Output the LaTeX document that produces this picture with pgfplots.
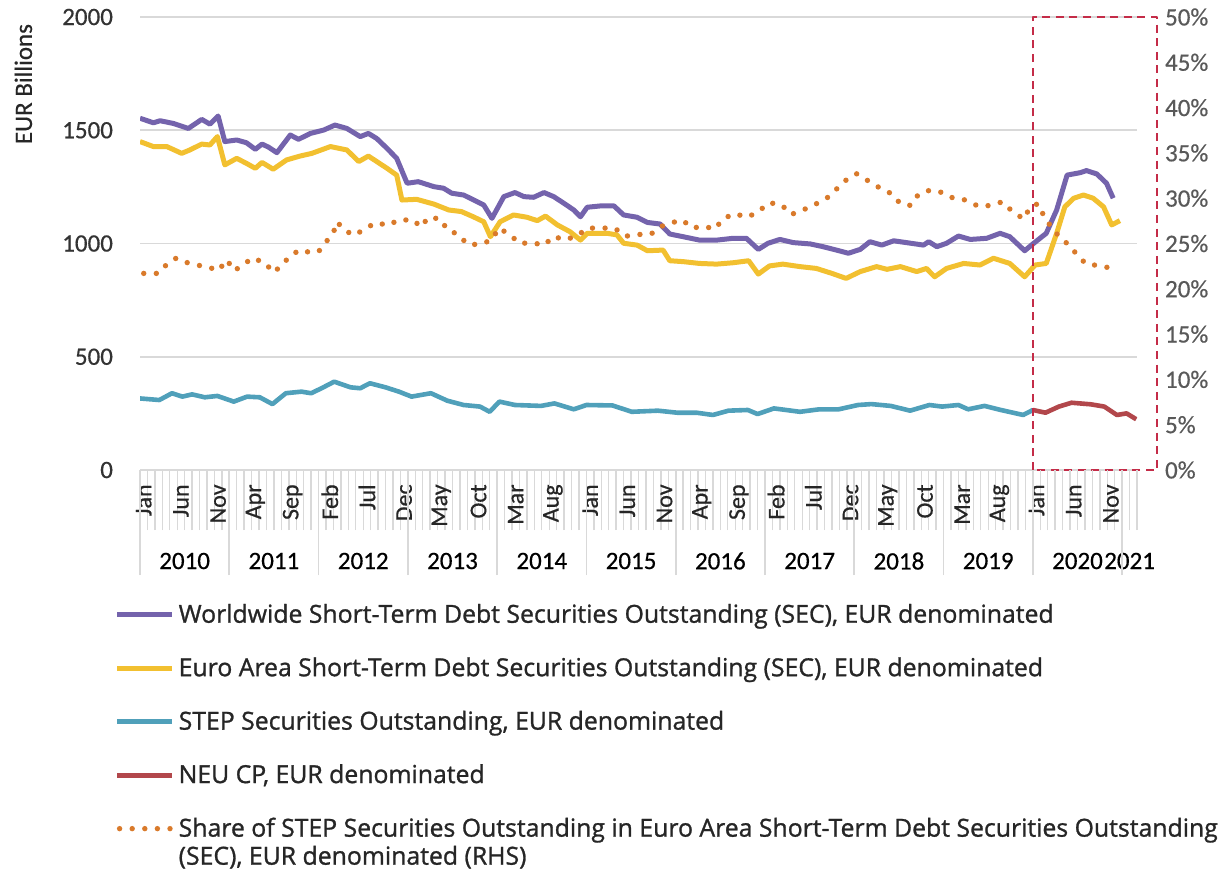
\documentclass[border=0pt]{standalone}
\usepackage{fontspec}
\setmainfont{Carlito}[FakeBold=0.5]
\newfontfamily\legfont[FakeBold=1.1]{Open Sans}
\usepackage{pgfplots}
\pgfplotsset{compat=1.18}
\definecolor{cPurple}{RGB}{116,99,172}
\definecolor{cYellow}{RGB}{242,192,48}
\definecolor{cTeal}{RGB}{80,160,186}
\definecolor{cRed}{RGB}{178,71,75}
\definecolor{cOrange}{RGB}{217,122,43}
\definecolor{cBox}{RGB}{196,44,72}
\definecolor{cGrid}{RGB}{217,217,217}
\begin{document}
\begin{tikzpicture}
\useasboundingbox (0,0) rectangle (609pt,437.5pt);
% ---------------- main axis (left) ----------------
\begin{axis}[
  at={(70pt,202.5pt)}, anchor=south west,
  scale only axis, width=498.5pt, height=226.5pt,
  xmin=0, xmax=134, ymin=0, ymax=2000,
  axis x line*=bottom, axis y line*=left,
  x axis line style={draw=cGrid, line width=0.9pt, -},
  y axis line style={draw=none},
  xtick=\empty,
  ytick={0,500,1000,1500,2000},
  major tick length=0pt,
  ymajorgrids, grid style={cGrid, line width=0.9pt},
  /pgf/number format/1000 sep={},
  /pgf/number format/assume math mode=true,
  yticklabel style={font=\fontsize{12.5}{14}\selectfont, text=black!80},
  yticklabel shift=10pt,
  ylabel={EUR Billions},
  ylabel style={at={(axis description cs:-0.117,0.852)}, anchor=center, font=\fontsize{12.5}{14}\selectfont, text=black!85},
  legend style={at={(axis description cs:-0.032,-0.277)}, anchor=north west, draw=none, fill=none,
    font=\legfont\fontsize{12.4}{14}\selectfont, row sep=11.8pt, cells={anchor=west, align=left}, text=black!85},
  legend cell align=left,
  legend image code/.code={\draw[line width=2.5pt, #1] (0pt,0pt) -- (27.5pt,0pt);},
  line join=round,
]
\addplot[cPurple, line width=2.5pt] coordinates {
(0,1553)(1.8,1533)(2.7,1542)(4.5,1530)(6.5,1508)(8.3,1548)(9.4,1527)(10.5,1563)(11.4,1450)(13,1457)(14.3,1445)(15.5,1416)(16.4,1439)(17.3,1425)(18.4,1401)(20.2,1479)(21.3,1460)(22.9,1486)(24.7,1501)(26.2,1523)(27.8,1508)(29.6,1472)(30.7,1486)(31.8,1464)(33.2,1420)(34.5,1376)(35.9,1266)(37.4,1273)(39.5,1251)(40.8,1244)(41.9,1222)(43.5,1214)(45.3,1185)(46.2,1170)(47.3,1111)(48.9,1207)(50.4,1225)(51.6,1207)(52.9,1204)(54.3,1225)(55.6,1207)(57,1177)(58.3,1148)(59.2,1118)(60.1,1160)(61.9,1166)(63.7,1166)(65,1126)(66.8,1116)(68.2,1093)(69.9,1086)(71.2,1042)(73,1030)(75.2,1015)(77.5,1015)(79.7,1023)(81.5,1023)(83.1,974)(84.4,1001)(86,1018)(87.8,1004)(90.1,998)(91.8,986)(93.6,971)(95.2,957)(96.8,974)(98.1,1008)(99.7,993)(101.3,1012)(103,1004)(105.3,993)(106,1008)(107.1,986)(108.4,1001)(110,1033)(111.6,1018)(113.8,1023)(115.6,1045)(116.9,1030)(118.9,968)(120,998)(121.8,1045)(123.2,1148)(124.6,1302)(126.4,1313)(127.2,1322)(128.6,1307)(129.9,1266)(130.8,1200)
};
\addlegendentry{Worldwide Short-Term Debt Securities Outstanding (SEC), EUR denominated}
\addplot[cYellow, line width=2.5pt] coordinates {
(0,1450)(1.8,1428)(3.6,1428)(5.6,1398)(6.7,1413)(8.3,1439)(9.4,1435)(10.4,1472)(11.4,1347)(13,1376)(14.3,1354)(15.5,1332)(16.4,1358)(17.9,1328)(19.7,1369)(21.5,1386)(23.1,1398)(25.6,1428)(27.8,1413)(29.4,1362)(30.7,1386)(33.2,1332)(34.5,1302)(35.2,1192)(37.2,1195)(39.5,1174)(41.5,1148)(43.2,1141)(44.8,1118)(46.2,1096)(47.1,1030)(48.4,1096)(50.2,1126)(52,1116)(53.4,1101)(54.5,1121)(56.1,1082)(57.8,1052)(59.2,1015)(60.1,1045)(62.8,1045)(64.1,1038)(65,1001)(66.8,993)(68.2,968)(70.3,971)(71.2,924)(73,920)(75.2,912)(77.5,909)(79.7,915)(81.8,924)(83.1,865)(84.6,901)(86.4,909)(88.7,898)(90.9,890)(93,868)(94.9,846)(96.8,876)(99,898)(100.4,886)(102.2,898)(104.4,876)(105.7,890)(106.8,853)(108.4,890)(110.7,912)(112.9,905)(114.7,935)(116.9,912)(118.9,853)(120.3,905)(121.8,912)(123.2,1045)(124.3,1162)(125.5,1200)(126.8,1214)(128.1,1200)(129.5,1162)(130.6,1082)(131.7,1101)
};
\addlegendentry{Euro Area Short-Term Debt Securities Outstanding (SEC), EUR denominated}
\addplot[cTeal, line width=2.3pt] coordinates {
(0,316)(2.6,309)(4.3,339)(5.7,324)(7,334)(8.7,321)(10.4,327)(12.6,302)(14.4,324)(16.1,321)(17.8,291)(19.6,339)(21.7,346)(23,339)(24.4,361)(26.1,390)(28.3,365)(29.6,361)(30.9,383)(33,365)(34.8,346)(36.5,324)(39.1,339)(41.3,306)(43.5,287)(45.7,280)(47,257)(48.3,302)(50.4,287)(53.9,283)(55.7,294)(58.3,268)(60,287)(63.5,285)(66.1,257)(69.6,262)(72.2,253)(74.8,253)(77,243)(79.1,262)(81.7,265)(83,247)(85.2,272)(88.7,257)(91.3,268)(93.9,268)(96.5,287)(98.3,291)(100.9,283)(103.5,262)(106.1,287)(107.8,280)(110,287)(111.3,268)(113.5,283)(115.7,265)(118.7,243)(120,265)
};
\addlegendentry{STEP Securities Outstanding, EUR denominated}
\addplot[cRed, line width=2.3pt] coordinates {
(120,265)(121.7,253)(123.5,280)(125.2,297)(127.8,290)(129.6,280)(131.3,243)(132.6,250)(133.9,224)
};
\addlegendentry{NEU CP, EUR denominated}
\addlegendimage{legend image code/.code={\path[draw=none] (0pt,-7pt) -- (27.5pt,7pt);\draw[cOrange, line width=2.7pt, line cap=round, dash pattern=on 0pt off 6.3pt] (1.3pt,7pt) -- (27.5pt,7pt);}}
\addlegendentry{Share of STEP Securities Outstanding in Euro Area Short-Term Debt Securities Outstanding\\(SEC), EUR denominated (RHS)}
\end{axis}
% ---------------- right axis (share) + year labels ----------------
\begin{axis}[
  at={(70pt,202.5pt)}, anchor=south west,
  scale only axis, width=498.5pt, height=226.5pt,
  xmin=0, xmax=134, ymin=0, ymax=50,
  clip=false,
  axis x line*=bottom, axis y line*=right,
  x axis line style={draw=none}, y axis line style={draw=none},
  major tick length=0pt,
  ytick={0,5,...,50},
  yticklabel={\pgfmathprintnumber{\tick}\%},
  /pgf/number format/assume math mode=true,
  yticklabel style={font=\fontsize{12.5}{14}\selectfont, text=black!65, anchor=west},
  yticklabel shift=10.5pt,
  xtick={6,18,30,42,54,66,78,90,102,114,126,133},
  xticklabels={2010,2011,2012,2013,2014,2015,2016,2017,2018,2019,2020,2021},
  xticklabel style={font=\fontsize{12.5}{14}\selectfont, text=black, anchor=center},
  xticklabel shift=45.5pt,
  line join=round,
]
\addplot[cOrange, line width=2.7pt, line cap=round, dash pattern=on 0pt off 6.3pt] coordinates {
(0.5,21.7)(2.5,21.7)(3.7,22.8)(4.9,23.4)(6.3,22.9)(7.8,22.6)(9.2,22.4)(10.5,22.0)(11.7,23.2)(12.6,22.0)(13.9,22.6)(15,23.4)(16.8,22.9)(17.9,21.8)(19.1,22.6)(20.1,23.6)(21.5,24.3)(22.9,24.0)(24,24.1)(24.9,25.1)(25.9,26.0)(26.5,27.4)(27.4,26.5)(28.8,25.9)(30.4,26.7)(31.7,27.3)(33.4,27.0)(34.7,27.6)(36.8,27.6)(37.7,26.8)(38.8,27.9)(40.4,27.7)(41.3,26.5)(42.8,26.0)(44,24.9)(45.7,24.9)(47.3,25.4)(48.2,26.7)(49.7,26.0)(51,25.0)(52.7,25.1)(54.3,24.8)(55.6,25.8)(57,25.4)(58.7,25.8)(60.1,26.7)(61.9,26.7)(63.8,26.7)(65.2,25.8)(67,26.0)(68.6,26.0)(70.1,26.9)(71.5,27.3)(72.9,27.6)(74.2,26.7)(75.7,26.9)(77.3,26.6)(78.3,27.7)(79.9,28.3)(81.6,27.9)(83.1,28.5)(84.5,29.5)(86.2,29.3)(87.5,28.2)(89.1,28.7)(90.7,29.3)(92.3,30.0)(93.6,31.0)(94.9,32.0)(96.3,32.7)(97.9,31.9)(99.5,31.1)(101,30.5)(102.2,29.4)(103.6,29.2)(104.6,30.4)(106.2,30.9)(108,30.6)(109.3,30.0)(111,29.8)(112.7,29.1)(114.3,29.2)(115.9,29.6)(117.3,28.5)(118.8,27.7)(119.6,29.0)(120.7,29.4)(121.5,28.0)(122.4,26.9)(123.6,25.7)(124.9,24.8)(126,23.7)(127.2,22.7)(128.6,22.6)(130.4,22.3)
};
\draw[cBox, line width=1.1pt, dash pattern=on 4pt off 2.8pt] (axis cs:120,0) rectangle (axis cs:136.7,50);
\end{axis}
% ---------------- month ticks and labels ----------------
\begin{axis}[
  at={(70pt,202.5pt)}, anchor=south west,
  scale only axis, width=498.5pt, height=226.5pt,
  xmin=0, xmax=134, ymin=0, ymax=1,
  axis x line*=bottom, axis y line=none,
  x axis line style={draw=none},
  tick align=outside,
  major tick length=0pt,
  minor tick length=30pt,
  xtick={0.5,5.5,...,130.5},
  xticklabels={Jan,Jun,Nov,Apr,Sep,Feb,Jul,Dec,May,Oct,Mar,Aug,Jan,Jun,Nov,Apr,Sep,Feb,Jul,Dec,May,Oct,Mar,Aug,Jan,Jun,Nov},
  xticklabel style={font=\fontsize{12}{14}\selectfont, text=black!85, rotate=90, anchor=east, inner xsep=7pt},
  minor xtick={0,1,...,134},
  minor tick style={draw=cGrid, line width=0.7pt},
  extra x ticks={0,12,24,36,48,60,72,84,96,108,120,132},
  extra x tick labels={},
  extra x tick style={major tick length=52.5pt, tick style={draw=cGrid, line width=0.9pt}},
]
\addplot[draw=none, forget plot] coordinates {(0,0)(134,1)};
\end{axis}
\end{tikzpicture}
\end{document}
